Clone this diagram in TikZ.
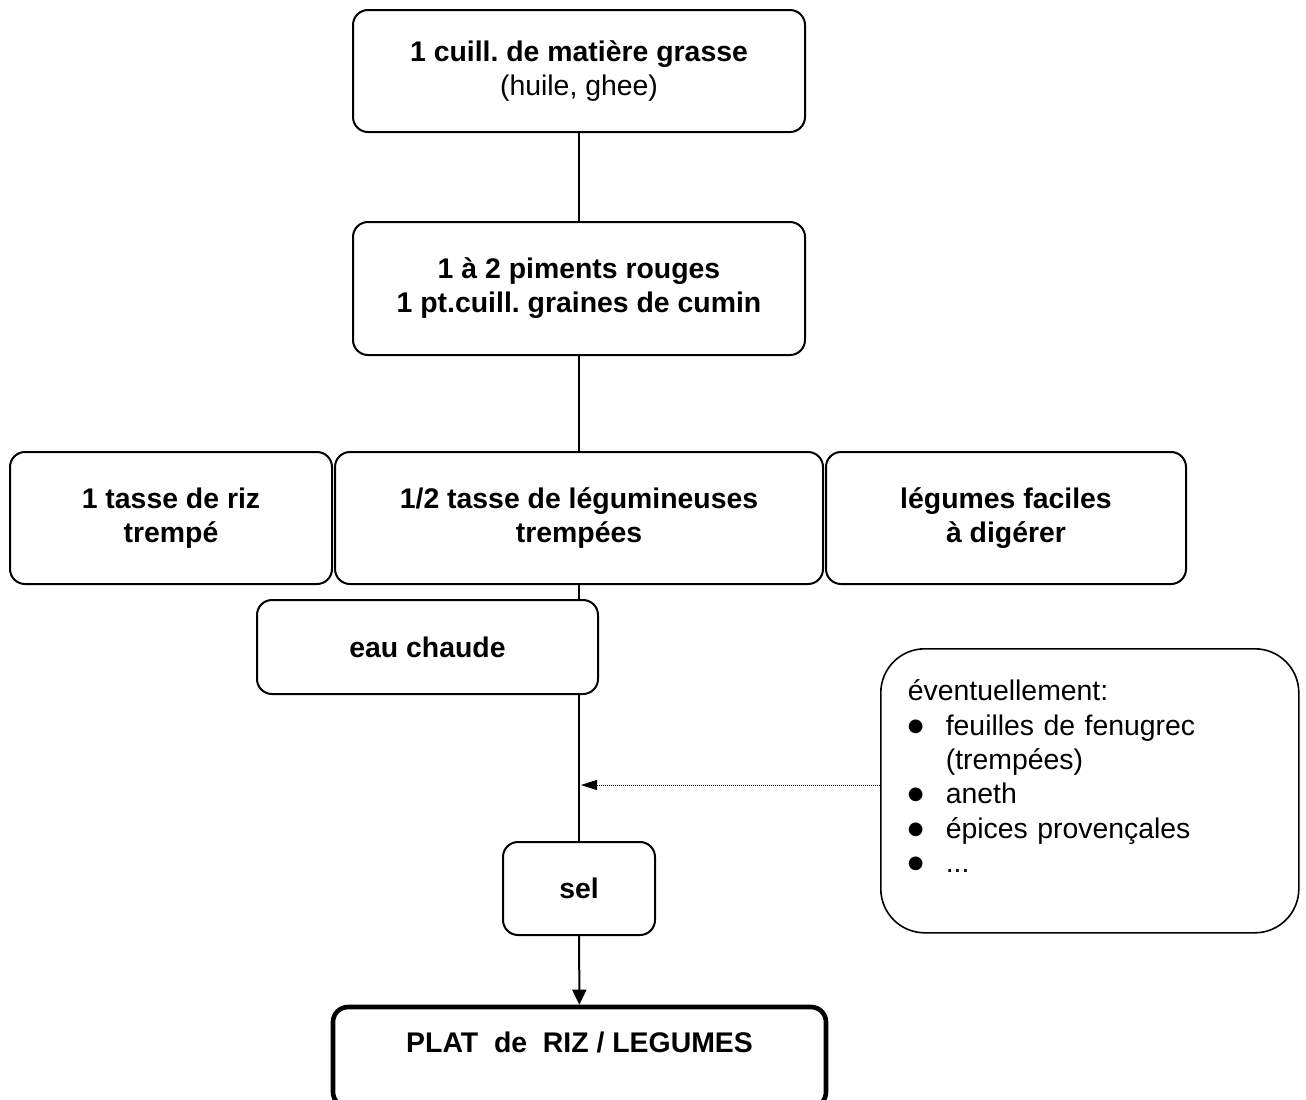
\documentclass[tikz,border=0pt]{standalone}
\usepackage{fontspec}
\setmainfont{Liberation Sans}
\newfontfamily\symbolfont{DejaVu Sans}
\usetikzlibrary{arrows.meta,positioning}
\frenchspacing
\newcommand{\notebullet}{\makebox[19pt][l]{\raisebox{2pt}{\symbolfont\fontsize{9}{9}\selectfont ●}}}

\begin{document}
\begin{tikzpicture}[
    x=0.5pt, y=-0.5pt,
    % Box styles
    ingredient/.style={
        rectangle,
        draw=black,
        line width=1pt,
        rounded corners=7.5pt,
        align=center,
        inner sep=0pt,
        font=\bfseries\fontsize{14.2}{17}\selectfont
    },
    dish/.style={
        ingredient,
        line width=2.3pt,
        text depth=15pt
    },
    note/.style={
        rectangle,
        draw=black,
        line width=0.8pt,
        rounded corners=22pt,
        inner xsep=13.5pt,
        inner ysep=0pt,
        text width=182pt,
        align=left,
        font=\fontsize{14.2}{17.2}\selectfont
    },
    link/.style={draw=black, line width=1pt},
    arrowlink/.style={link, -{Triangle[length=7.5pt,width=7pt]}},
    optlink/.style={draw=black, line width=0.5pt, dash pattern=on 0.5pt off 0.5pt,
        -{Triangle[length=8pt,width=5pt]}}
]
\useasboundingbox (0,0) rectangle (1306,1099);

% Main column
\node[ingredient, minimum width=226pt, minimum height=61pt] (fat) at (579,71)
    {1 cuill. de matière grasse\\{\mdseries (huile, ghee)}};
\node[ingredient, minimum width=226pt, minimum height=66.5pt] (chili) at (579,288.5)
    {1 à 2 piments rouges\\1 pt.cuill. graines de cumin};

% Row of grains and vegetables
\node[ingredient, minimum width=161pt, minimum height=66pt] (rice) at (171,518)
    {1 tasse de riz\\trempé};
\node[ingredient, minimum width=244pt, minimum height=66pt] (pulses) at (579,518)
    {1/2 tasse de légumineuses\\trempées};
\node[ingredient, minimum width=180pt, minimum height=66pt] (veg) at (1006,518)
    {légumes faciles\\à digérer};

\node[ingredient, minimum width=170.5pt, minimum height=47pt] (water) at (427.5,647)
    {eau chaude};
\node[ingredient, minimum width=76pt, minimum height=46.5pt] (salt) at (579,888.5)
    {sel};
\node[dish, minimum width=246.5pt, minimum height=50pt] (plat) at (579.5,1057)
    {PLAT\ \ de\ \ RIZ / LEGUMES};

% Optional extras
\node[note, anchor=north west, minimum height=142pt] (extras) at (880,648)
    {\begin{tabular}{@{}l@{}l@{}}
     \multicolumn{2}{@{}l@{}}{éventuellement:}\\
     \notebullet & feuilles de fenugrec\\
                 & (trempées)\\
     \notebullet & aneth\\
     \notebullet & épices provençales\\
     \notebullet & ...\\[11pt]
     \end{tabular}};

% Connections
\draw[link] (fat) -- (chili);
\draw[link] (chili) -- (pulses);
\draw[link] (pulses.south) -- (pulses.south |- water.north);
\draw[link] (water.south -| salt.north) -- (salt.north);
\draw[arrowlink] (salt) -- (plat);

\coordinate (join) at (581,785);
\draw[optlink] (extras.west |- join) -- (join);

\end{tikzpicture}
\end{document}
